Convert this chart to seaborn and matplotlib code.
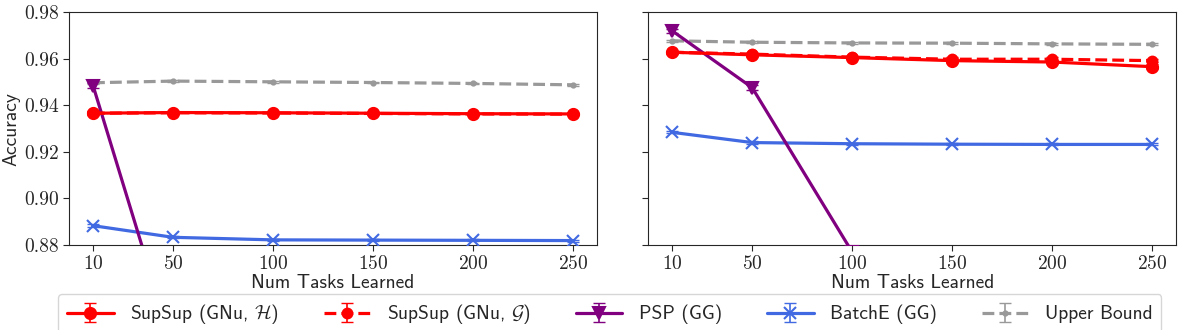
import matplotlib
matplotlib.use("Agg")
import matplotlib.pyplot as plt
import matplotlib.ticker as mticker
import pandas as pd
import seaborn as sns
from matplotlib.container import ErrorbarContainer

# Number of tasks learned (shared x positions)
tasks = [10, 50, 100, 150, 200, 250]

# Left panel accuracies
left_supsup_h = [0.9366, 0.9369, 0.9368, 0.9366, 0.9364, 0.9363]
left_supsup_g = [0.9366, 0.9368, 0.9367, 0.9365, 0.9363, 0.9362]
left_psp = [0.9485, 0.8360, 0.7800, 0.7600, 0.7500, 0.7400]
left_batche = [0.8883, 0.8833, 0.8822, 0.8821, 0.8820, 0.8819]
left_upper = [0.9497, 0.9504, 0.9501, 0.9498, 0.9494, 0.9488]

# Right panel accuracies
right_supsup_h = [0.9628, 0.9617, 0.9605, 0.9592, 0.9586, 0.9566]
right_supsup_g = [0.9628, 0.9620, 0.9607, 0.9598, 0.9598, 0.9592]
right_psp = [0.9720, 0.9476, 0.8770, 0.8300, 0.8000, 0.7800]
right_batche = [0.9284, 0.9240, 0.9235, 0.9233, 0.9232, 0.9232]
right_upper = [0.9677, 0.9671, 0.9668, 0.9667, 0.9664, 0.9662]

# Standard deviations across runs
left_err = {
    "h": [0.0008, 0.0006, 0.0006, 0.0005, 0.0005, 0.0005],
    "g": [0.0008, 0.0006, 0.0006, 0.0005, 0.0005, 0.0005],
    "psp": [0.0010, 0.0010, 0.0010, 0.0010, 0.0010, 0.0010],
    "batche": [0.0006, 0.0005, 0.0004, 0.0004, 0.0004, 0.0004],
    "upper": [0.0004, 0.0004, 0.0004, 0.0004, 0.0004, 0.0004],
}
right_err = {
    "h": [0.0006, 0.0008, 0.0008, 0.0010, 0.0010, 0.0010],
    "g": [0.0006, 0.0006, 0.0006, 0.0008, 0.0008, 0.0008],
    "psp": [0.0010, 0.0012, 0.0010, 0.0010, 0.0010, 0.0010],
    "batche": [0.0005, 0.0005, 0.0004, 0.0004, 0.0004, 0.0004],
    "upper": [0.0004, 0.0004, 0.0004, 0.0004, 0.0004, 0.0004],
}

labels = [
    r"SupSup (GNu, $\mathcal{H}$)",
    r"SupSup (GNu, $\mathcal{G}$)",
    "PSP (GG)",
    "BatchE (GG)",
    "Upper Bound",
]
keys = ["h", "g", "psp", "batche", "upper"]
colors = ["#ff0000", "#ff0000", "#800080", "#4169e1", "#999999"]
styles = ["-", "--", "-", "-", "--"]
markers = ["o", "o", "v", "x", "."]
msizes = [8, 7, 8, 8, 6]

sns.set_style("ticks")
plt.rcParams["font.family"] = "cmr10"
plt.rcParams["mathtext.fontset"] = "cm"
plt.rcParams["axes.formatter.use_mathtext"] = True
plt.rcParams["axes.unicode_minus"] = False

fig, axes = plt.subplots(1, 2, figsize=(11.82, 3.3), dpi=100, sharey=True)
fig.subplots_adjust(left=0.0584, right=0.995, top=0.963, bottom=0.2576, wspace=0.097)

panels = [
    (axes[0], [left_supsup_h, left_supsup_g, left_psp, left_batche, left_upper], left_err),
    (axes[1], [right_supsup_h, right_supsup_g, right_psp, right_batche, right_upper], right_err),
]

handles = []
for pi, (ax, series, errs) in enumerate(panels):
    for i, vals in enumerate(series):
        df = pd.DataFrame({"tasks": tasks, "acc": vals})
        sns.lineplot(data=df, x="tasks", y="acc", ax=ax, color=colors[i],
                     linestyle=styles[i], linewidth=2.3, marker=markers[i],
                     markersize=msizes[i], markeredgecolor=colors[i],
                     markeredgewidth=1.5, legend=False, zorder=3 + (4 - i) * 0.1)
        line = ax.get_lines()[-1]
        eb = ax.errorbar(tasks, vals, yerr=errs[keys[i]], fmt="none",
                         ecolor=colors[i], elinewidth=1.2, capsize=4, zorder=3)
        if pi == 0:
            handles.append(ErrorbarContainer((line, eb.lines[1], eb.lines[2]),
                                             has_xerr=False, has_yerr=True,
                                             label=labels[i]))
    ax.set_ylim(0.88, 0.98)
    ax.set_xlim(-2, 262)
    ax.set_xticks(tasks)
    ax.set_yticks([0.88, 0.90, 0.92, 0.94, 0.96, 0.98])
    ax.yaxis.set_major_formatter(mticker.FormatStrFormatter("%.2f"))
    ax.tick_params(labelsize=14, length=4, pad=3)
    ax.set_xlabel("Num Tasks Learned", fontfamily="cmss10", fontsize=14, labelpad=1)
    ax.set_ylabel("")
    for s in ax.spines.values():
        s.set_visible(True)
        s.set_linewidth(0.8)

axes[0].set_ylabel("Accuracy", fontfamily="cmss10", fontsize=14, labelpad=3)
axes[1].tick_params(labelleft=False)

fig.legend(handles=handles, labels=labels, loc="upper center",
           bbox_to_anchor=(0.516, 0.11), ncol=5, frameon=True,
           prop={"family": "cmss10", "size": 14}, columnspacing=2.3,
           handlelength=2.4, handletextpad=0.85, borderpad=0.45,
           borderaxespad=0.0, fancybox=True)

fig.savefig("out.png", dpi=100)
